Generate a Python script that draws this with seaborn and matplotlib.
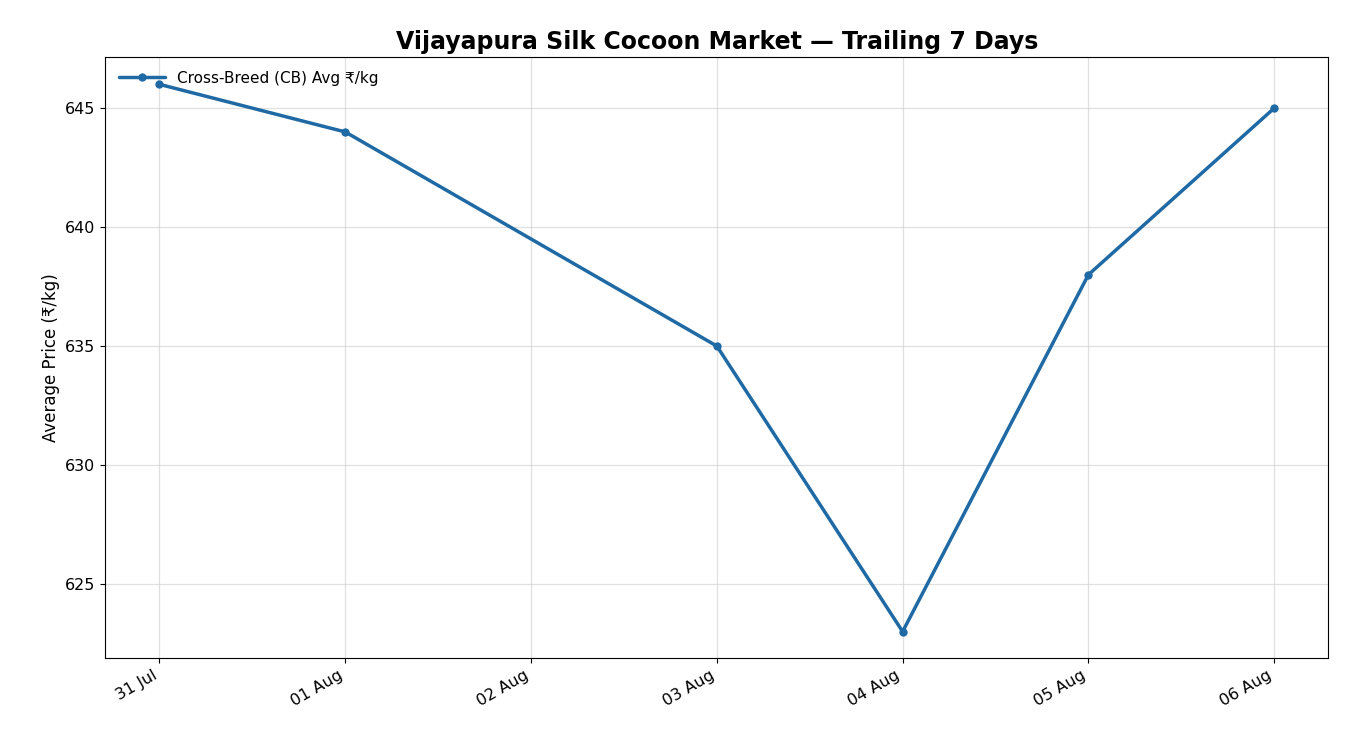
import matplotlib
matplotlib.use("Agg")
import matplotlib.pyplot as plt
import matplotlib.dates as mdates
import seaborn as sns
import pandas as pd

dates = ["2024-07-31", "2024-08-01", "2024-08-03", "2024-08-04", "2024-08-05", "2024-08-06"]
prices = [646, 644, 635, 623, 638, 645]

sns.set_style("ticks", rc={"text.color": "black", "axes.labelcolor": "black",
                           "xtick.color": "black", "ytick.color": "black",
                           "axes.edgecolor": "black"})
plt.rcParams['font.family'] = ['DejaVu Sans']
df = pd.DataFrame({"date": pd.to_datetime(dates), "price": prices})

fig, ax = plt.subplots(figsize=(13.5, 7.5), dpi=100)
sns.lineplot(data=df, x="date", y="price", ax=ax, color="#1f6aa5", linewidth=2.5,
             marker="o", markersize=6, markeredgewidth=0, label="Cross-Breed (CB) Avg ₹/kg")
ax.set_title("Vijayapura Silk Cocoon Market — Trailing 7 Days", fontsize=17, fontweight="bold")
ax.set_xlabel("")
ax.set_ylabel("Average Price (₹/kg)", fontsize=12)
ax.xaxis.set_major_locator(mdates.DayLocator())
ax.xaxis.set_major_formatter(mdates.DateFormatter("%d %b"))
ax.set_xlim(pd.Timestamp("2024-07-30 17:00"), pd.Timestamp("2024-08-06 07:00"))
ax.set_ylim(621.9, 647.15)
ax.set_yticks([625, 630, 635, 640, 645])
ax.grid(True, color="#cccccc", alpha=0.6, linewidth=0.9)
ax.tick_params(labelsize=11.5)
plt.setp(ax.get_xticklabels(), rotation=30, ha="right")
ax.legend(loc="upper left", frameon=False, fontsize=11, handlelength=3)
fig.subplots_adjust(left=0.078, right=0.984, top=0.924, bottom=0.123)
fig.savefig("out.png")
